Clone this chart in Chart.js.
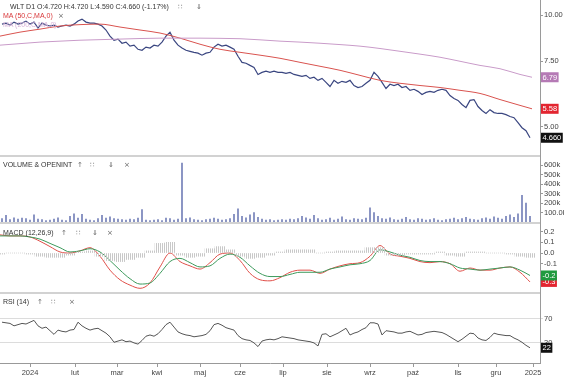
<!DOCTYPE html>
<html>
<head>
<meta charset="utf-8">
<script src="https://cdn.jsdelivr.net/npm/chart.js@4.4.1/dist/chart.umd.min.js"></script>
<style>
body { margin: 0; background: #fff; }
#wrap { position: relative; width: 564px; height: 380px; overflow: hidden; font-family: "Liberation Sans", Arial, sans-serif; }
canvas { position: absolute; left: 0; }
.lbl { position: absolute; font-size: 7px; line-height: 8px; color: #333; white-space: nowrap; }
.ico { position: absolute; font-size: 7px; line-height: 8px; color: #666; font-family: "DejaVu Sans", sans-serif; }
.sep { position: absolute; left: 0; width: 540px; height: 2px; background: #d2d2d2; }
</style>
</head>
<body>
<div id="wrap">
  <canvas id="priceChart" width="564" height="156" style="top:0"></canvas>
  <canvas id="volChart" width="564" height="64" style="top:158px"></canvas>
  <canvas id="macdChart" width="564" height="66" style="top:225px"></canvas>
  <canvas id="rsiChart" width="564" height="84" style="top:296px"></canvas>

  <div class="sep" style="top:155px"></div>
  <div class="sep" style="top:222px"></div>
  <div class="sep" style="top:292px"></div>
  <div style="position:absolute;left:540px;top:0;width:1px;height:363px;background:#9a9a9a"></div>

  <div class="lbl" style="left:10px;top:3px">WLT D1 O:4.720 H:4.720 L:4.590 C:4.660 (-1.17%)</div>
  <div class="ico" style="left:178px;top:3px">∷</div>
  <div class="ico" style="left:196px;top:3px">⇓</div>
  <div class="lbl" style="left:3px;top:12px;color:#d8383a">MA (50,C,MA,0)</div>
  <div class="ico" style="left:58px;top:12px">×</div>
  <div class="lbl" style="left:3px;top:21px;color:#d7b3d7">MA (200,C,MA,0)</div>

  <div class="lbl" style="left:3px;top:161px">VOLUME &amp; OPENINT</div>
  <div class="ico" style="left:77px;top:161px">↑</div>
  <div class="ico" style="left:90px;top:161px">∷</div>
  <div class="ico" style="left:108px;top:161px">⇓</div>
  <div class="ico" style="left:124px;top:161px">×</div>

  <div class="lbl" style="left:3px;top:229px">MACD (12,26,9)</div>
  <div class="ico" style="left:61px;top:229px">↑</div>
  <div class="ico" style="left:76px;top:229px">∷</div>
  <div class="ico" style="left:92px;top:229px">⇓</div>
  <div class="ico" style="left:107px;top:229px">×</div>

  <div class="lbl" style="left:3px;top:298px">RSI (14)</div>
  <div class="ico" style="left:37px;top:298px">↑</div>
  <div class="ico" style="left:51px;top:298px">∷</div>
  <div class="ico" style="left:69px;top:298px">×</div>
</div>

<script>
const FONT = '"Liberation Sans", Arial, sans-serif';

// daily closes, one value every 2 sessions
const closes = [
  9.45, 9.51, 9.39, 9.57, 9.45, 9.51, 9.63, 9.45, 9.57, 9.22,
  9.51, 9.39, 9.34, 9.39, 9.28, 9.34, 9.39, 9.34, 9.45, 9.63,
  9.75, 9.57, 9.51, 9.51, 9.45, 9.34, 9.11, 8.77, 8.55, 8.61,
  8.39, 8.45, 8.24, 8.29, 8.08, 8.03, 8.19, 8.14, 8.29, 8.24,
  8.45, 8.77, 8.99, 8.55, 8.29, 8.14, 8.03, 7.98, 7.93, 7.89,
  7.79, 7.89, 7.93, 8.19, 8.34, 8.24, 8.29, 8.19, 8.08, 7.74,
  7.45, 7.41, 7.31, 7.22, 6.91, 7.00, 7.05, 7.00, 7.05, 7.00,
  7.00, 6.96, 7.00, 6.91, 6.87, 6.83, 6.87, 6.74, 6.79, 6.66,
  6.74, 6.58, 6.41, 6.66, 6.54, 6.62, 6.58, 6.66, 6.45, 6.37,
  6.41, 6.54, 6.66, 7.00, 6.83, 6.58, 6.33, 6.50, 6.45, 6.50,
  6.37, 6.41, 6.26, 6.30, 6.22, 6.10, 6.18, 6.22, 6.18, 6.26,
  6.30, 6.26, 6.06, 5.95, 5.88, 5.73, 5.62, 5.88, 5.91, 5.66,
  5.52, 5.42, 5.55, 5.45, 5.42, 5.42, 5.38, 5.32, 5.28, 5.12,
  4.96, 4.87, 4.66
];

// volume in thousands, same sessions as closes
const volumes = [
  35, 70, 25, 45, 30, 40, 35, 20, 75, 30,
  25, 15, 20, 30, 45, 20, 15, 60, 85, 40,
  80, 30, 20, 15, 35, 70, 40, 55, 35, 30,
  25, 20, 30, 25, 40, 130, 20, 15, 20, 25,
  15, 40, 35, 20, 30, 620, 35, 45, 25, 20,
  15, 25, 30, 40, 30, 20, 25, 35, 80, 140,
  60, 45, 75, 100, 50, 30, 20, 25, 15, 20,
  25, 20, 30, 25, 35, 60, 45, 30, 70, 35,
  20, 25, 40, 20, 30, 55, 25, 20, 35, 30,
  25, 40, 150, 100, 60, 35, 30, 45, 25, 20,
  30, 50, 25, 20, 35, 30, 20, 25, 35, 20,
  15, 25, 30, 40, 25, 35, 50, 30, 25, 20,
  35, 45, 30, 55, 40, 30, 60, 75, 50, 85,
  280, 200, 60
];

// RSI(14), same sessions as closes
const rsi = [
  64, 63, 62, 58, 60, 62, 61, 64, 67, 58,
  54, 56, 50, 44, 51, 49, 48, 51, 52, 64,
  58, 54, 51, 53, 54, 50, 46, 40, 31, 33,
  35, 32, 33, 30, 28, 34, 41, 43, 41, 45,
  52, 60, 64, 56, 48, 45, 43, 42, 40, 41,
  42, 44, 50, 60, 62, 59, 55, 53, 51, 42,
  37, 35, 34, 30, 24, 33, 35, 36, 35, 37,
  40, 39, 38, 37, 35, 34, 33, 32, 30, 25,
  44, 45, 40, 43, 46, 50, 54, 43, 46, 48,
  52, 55, 63, 63, 61, 43, 50, 49, 48, 46,
  46, 48, 49, 46, 43, 44, 47, 48, 49, 48,
  47, 44, 40, 36, 32, 36, 41, 46, 45, 38,
  35, 34, 39, 46, 44, 43, 42, 42, 38, 35,
  31, 26, 22
];

// moving averages, sampled every 10 sessions
const maDays = [0, 10, 20, 30, 40, 50, 60, 70, 80, 90, 100, 110, 120, 130,
  140, 150, 160, 170, 180, 190, 200, 210, 220, 230, 240, 250, 260, 266];
const ma50 = [8.77, 8.99, 9.16, 9.34, 9.42, 9.45, 9.28, 9.11, 8.94, 8.66, 8.34, 8.08, 7.93, 7.79,
  7.64, 7.45, 7.27, 7.09, 6.87, 6.66, 6.54, 6.45, 6.37, 6.26, 6.14, 5.91, 5.70, 5.58];
const ma200 = [8.29, 8.37, 8.45, 8.50, 8.55, 8.58, 8.61, 8.64, 8.66, 8.66, 8.66, 8.65, 8.63, 8.57,
  8.50, 8.45, 8.39, 8.32, 8.24, 8.12, 7.98, 7.84, 7.69, 7.50, 7.31, 7.16, 6.91, 6.79];

// MACD, sampled every 5 sessions
const macdLine = [
  0.17, 0.16, 0.16, 0.15, 0.11, 0.06, 0.01, 0.00, 0.02, 0.05,
  -0.03, -0.16, -0.25, -0.30, -0.33, -0.28, -0.13, 0.00, -0.08, -0.12,
  -0.15, -0.09, -0.01, 0.00, -0.07, -0.19, -0.25, -0.26, -0.23, -0.18,
  -0.16, -0.16, -0.19, -0.15, -0.12, -0.10, -0.09, -0.03, 0.07, -0.01,
  -0.03, -0.05, -0.08, -0.09, -0.08, -0.10, -0.17, -0.14, -0.16, -0.16,
  -0.14, -0.13, -0.18, -0.27
];
const macdSignal = [
  0.16, 0.16, 0.16, 0.15, 0.13, 0.09, 0.05, 0.01, 0.02, 0.04,
  0.01, -0.07, -0.16, -0.24, -0.29, -0.28, -0.19, -0.08, -0.05, -0.09,
  -0.13, -0.12, -0.05, -0.01, -0.04, -0.12, -0.19, -0.22, -0.22, -0.20,
  -0.18, -0.18, -0.18, -0.15, -0.13, -0.11, -0.10, -0.07, 0.03, 0.01,
  -0.02, -0.04, -0.07, -0.08, -0.08, -0.10, -0.14, -0.15, -0.16, -0.15,
  -0.14, -0.13, -0.16, -0.21
];
const macdHist = [
  -0.01, 0.00, 0.00, -0.01, -0.03, -0.04, -0.04, -0.02, 0.01, 0.02,
  -0.03, -0.07, -0.08, -0.06, -0.04, 0.02, 0.09, 0.10, -0.02, -0.04,
  -0.03, 0.04, 0.06, 0.03, -0.03, -0.05, -0.04, -0.02, 0.01, 0.03,
  0.03, 0.03, 0.00, 0.01, 0.02, 0.02, 0.02, 0.05, 0.05, -0.02,
  -0.02, -0.01, -0.01, -0.01, 0.01, -0.02, -0.03, 0.01, 0.01, 0.00,
  0.00, -0.01, -0.03, -0.04
];

const priceTicks = [5, 7.5, 10];
const volTicks = [100, 200, 300, 400, 500, 600];
const volTickLabels = ['100.0k', '200k', '300k', '400k', '500k', '600k'];
const macdTicks = [0.2, 0.1, 0, -0.1];
const rsiTicks = [30, 70];
const monthDays = [15, 37.5, 58.5, 78.5, 100, 120, 141.5, 163.5, 185, 206.5, 229, 248, 266.5];
const monthNames = ['2024', 'lut', 'mar', 'kwi', 'maj', 'cze', 'lip', 'sie', 'wrz', 'paź', 'lis', 'gru', '2025'];

const sessionDays = closes.map((v, i) => 2 * i + 1);
const macdDays = macdLine.map((v, i) => 5 * i);

function pts(xs, ys) {
    return ys.map((y, i) => ({ x: xs[i], y: y }));
}

function hiddenX() {
    return { type: 'linear', min: 0, max: 270, offset: false, display: false };
}

function rightAxis(opts) {
    return Object.assign({
        position: 'right',
        grid: { drawOnChartArea: false, tickLength: 3, color: '#999' },
        border: { color: '#999' },
        afterFit: function (s) {
            s.width = 24;
            s.paddingTop = 0;
            s.paddingBottom = 0;
        }
    }, opts);
}

function tickOpts(cb) {
    return {
        font: { size: 7.5, family: FONT }, color: '#444', padding: 1,
        autoSkip: false, callback: cb
    };
}

// thin vertical stripes, like the histogram hatching
function hatch(color) {
    var c = document.createElement('canvas');
    c.width = 2;
    c.height = 2;
    var g = c.getContext('2d');
    g.fillStyle = color;
    g.fillRect(0, 0, 1, 2);
    return g.createPattern(c, 'repeat');
}

// coloured value labels on the right axis
function boxesPlugin(list) {
    return {
        id: 'valueBoxes',
        afterDraw: function (chart) {
            var ctx = chart.ctx;
            var scale = chart.scales.y;
            ctx.save();
            ctx.font = '7.5px ' + FONT;
            ctx.textBaseline = 'middle';
            list.forEach(function (b) {
                var py = scale.getPixelForValue(b.value);
                var w = ctx.measureText(b.text).width + 3;
                ctx.fillStyle = b.bg;
                ctx.fillRect(541, py - 5, w, 10);
                ctx.fillStyle = '#fff';
                ctx.fillText(b.text, 542.5, py + 0.5);
            });
            ctx.restore();
        }
    };
}

Chart.defaults.animation = false;
Chart.defaults.responsive = false;
Chart.defaults.plugins.legend.display = false;
Chart.defaults.plugins.tooltip.enabled = false;
Chart.defaults.layout.padding = 0;

new Chart(document.getElementById('priceChart'), {
    type: 'line',
    data: {
        datasets: [{
            data: pts(maDays, ma200),
            borderColor: '#c99bc9',
            borderWidth: 1,
            pointRadius: 0,
            cubicInterpolationMode: 'monotone'
        }, {
            data: pts(maDays, ma50),
            borderColor: '#d9534f',
            borderWidth: 1,
            pointRadius: 0,
            cubicInterpolationMode: 'monotone'
        }, {
            data: pts(sessionDays, closes),
            borderColor: '#3a4680',
            borderWidth: 1.2,
            pointRadius: 0,
            tension: 0
        }]
    },
    options: {
        scales: {
            x: hiddenX(),
            y: rightAxis({
                type: 'logarithmic',
                min: 4.16,
                max: 10.98,
                afterBuildTicks: function (s) {
                    s.ticks = priceTicks.map(function (v) { return { value: v }; });
                },
                ticks: tickOpts(function (v) { return v.toFixed(2); })
            })
        }
    },
    plugins: [boxesPlugin([
        { value: ma200[ma200.length - 1], text: ma200[ma200.length - 1].toFixed(2), bg: '#b57ab5' },
        { value: ma50[ma50.length - 1], text: ma50[ma50.length - 1].toFixed(2), bg: '#e32530' },
        { value: closes[closes.length - 1], text: closes[closes.length - 1].toFixed(3), bg: '#111' }
    ])]
});

new Chart(document.getElementById('volChart'), {
    type: 'bar',
    data: {
        datasets: [{
            data: pts(sessionDays, volumes),
            backgroundColor: '#7480b8',
            barThickness: 1
        }]
    },
    options: {
        scales: {
            x: hiddenX(),
            y: rightAxis({
                min: 0,
                max: 674,
                afterBuildTicks: function (s) {
                    s.ticks = volTicks.map(function (v) { return { value: v }; });
                },
                ticks: tickOpts(function (v, i) { return volTickLabels[i]; })
            })
        }
    }
});

new Chart(document.getElementById('macdChart'), {
    data: {
        datasets: [{
            type: 'bar',
            data: pts(macdDays, macdHist),
            backgroundColor: hatch('#c8c8c8'),
            barThickness: 10
        }, {
            type: 'line',
            data: pts(macdDays, macdSignal),
            borderColor: '#3d9a5c',
            borderWidth: 1,
            pointRadius: 0,
            cubicInterpolationMode: 'monotone'
        }, {
            type: 'line',
            data: pts(macdDays, macdLine),
            borderColor: '#e0504a',
            borderWidth: 1,
            pointRadius: 0,
            cubicInterpolationMode: 'monotone'
        }]
    },
    options: {
        scales: {
            x: hiddenX(),
            y: rightAxis({
                min: -0.355,
                max: 0.262,
                afterBuildTicks: function (s) {
                    s.ticks = macdTicks.map(function (v) { return { value: v }; });
                },
                ticks: tickOpts(function (v) { return v.toFixed(1); })
            })
        }
    },
    plugins: [boxesPlugin([
        { value: macdLine[macdLine.length - 1], text: macdLine[macdLine.length - 1].toFixed(1), bg: '#e32530' },
        { value: macdSignal[macdSignal.length - 1], text: macdSignal[macdSignal.length - 1].toFixed(1), bg: '#1f9a3e' }
    ])]
});

new Chart(document.getElementById('rsiChart'), {
    type: 'line',
    data: {
        datasets: [{
            data: pts(sessionDays, rsi),
            borderColor: '#555',
            borderWidth: 1,
            pointRadius: 0,
            tension: 0
        }]
    },
    options: {
        scales: {
            x: {
                type: 'linear',
                min: 0,
                max: 270,
                offset: false,
                grid: { drawOnChartArea: false, tickLength: 4, color: '#999' },
                border: { color: '#999' },
                afterBuildTicks: function (s) {
                    s.ticks = monthDays.map(function (v) { return { value: v }; });
                },
                ticks: Object.assign(tickOpts(function (v, i) { return monthNames[i]; }), { maxRotation: 0 }),
                afterFit: function (s) {
                    s.height = 17;
                    s.paddingLeft = 0;
                    s.paddingRight = 0;
                }
            },
            y: rightAxis({
                min: -3,
                max: 107,
                grid: { drawOnChartArea: true, tickLength: 3, color: '#dcdcdc' },
                afterBuildTicks: function (s) {
                    s.ticks = rsiTicks.map(function (v) { return { value: v }; });
                },
                ticks: tickOpts(function (v) { return String(v); })
            })
        }
    },
    plugins: [boxesPlugin([
        { value: rsi[rsi.length - 1], text: String(rsi[rsi.length - 1]), bg: '#111' }
    ])]
});
</script>
</body>
</html>
